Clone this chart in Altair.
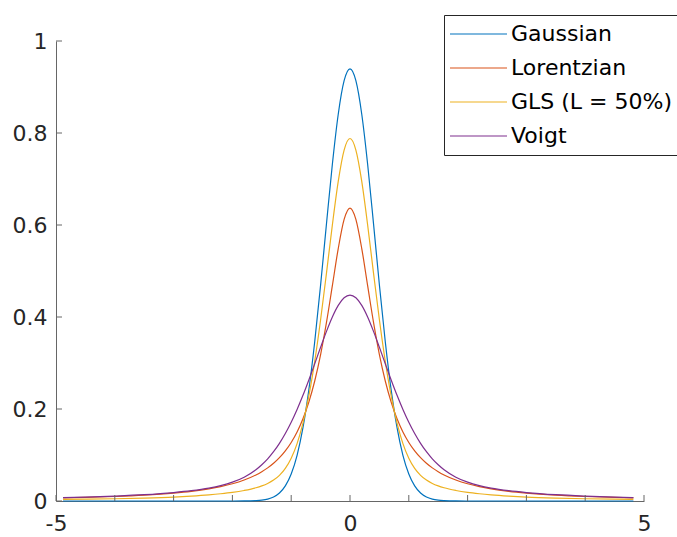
import altair as alt
import pandas as pd

# x positions
x_vals = [-4.88, -4.5, -4.0, -3.5, -3.0, -2.7, -2.4, -2.2, -2.0, -1.8, -1.6,
          -1.5, -1.4, -1.3, -1.2, -1.1, -1.0, -0.9, -0.8, -0.7, -0.6, -0.5,
          -0.4, -0.3, -0.2, -0.1, 0.0, 0.1, 0.2, 0.3, 0.4, 0.5, 0.6, 0.7,
          0.8, 0.9, 1.0, 1.1, 1.2, 1.3, 1.4, 1.5, 1.6, 1.8, 2.0, 2.2, 2.4,
          2.7, 3.0, 3.5, 4.0, 4.5, 4.82]

gaussian = [0, 0, 0, 0, 0, 0, 0, 0, 0, 0.0001, 0.0008,
            0.0018, 0.0041, 0.0087, 0.0173, 0.0328, 0.0587, 0.0994, 0.1593, 0.2414, 0.3463, 0.4697,
            0.6028, 0.7320, 0.8408, 0.9137, 0.9394, 0.9137, 0.8408, 0.7320, 0.6028, 0.4697, 0.3463, 0.2414,
            0.1593, 0.0994, 0.0587, 0.0328, 0.0173, 0.0087, 0.0041, 0.0018, 0.0008, 0.0001, 0, 0, 0,
            0, 0, 0, 0, 0, 0]

lorentzian = [0.0066, 0.0078, 0.0098, 0.0127, 0.0172, 0.0211, 0.0265, 0.0313, 0.0374, 0.0456, 0.0566,
              0.0637, 0.0720, 0.0820, 0.0942, 0.1090, 0.1273, 0.1501, 0.1788, 0.2151, 0.2609, 0.3183,
              0.3882, 0.4681, 0.5488, 0.6121, 0.6366, 0.6121, 0.5488, 0.4681, 0.3882, 0.3183, 0.2609, 0.2151,
              0.1788, 0.1501, 0.1273, 0.1090, 0.0942, 0.0820, 0.0720, 0.0637, 0.0566, 0.0456, 0.0374, 0.0313, 0.0265,
              0.0211, 0.0172, 0.0127, 0.0098, 0.0078, 0.0068]

gls = [0.0033, 0.0039, 0.0049, 0.0064, 0.0086, 0.0106, 0.0133, 0.0157, 0.0187, 0.0229, 0.0287,
       0.0328, 0.0381, 0.0454, 0.0558, 0.0709, 0.0930, 0.1248, 0.1691, 0.2283, 0.3036, 0.3940,
       0.4955, 0.6001, 0.6948, 0.7629, 0.7880, 0.7629, 0.6948, 0.6001, 0.4955, 0.3940, 0.3036, 0.2283,
       0.1691, 0.1248, 0.0930, 0.0709, 0.0558, 0.0454, 0.0381, 0.0328, 0.0287, 0.0229, 0.0187, 0.0157, 0.0133,
       0.0106, 0.0086, 0.0064, 0.0049, 0.0039, 0.0034]

voigt = [0.0073, 0.0085, 0.0107, 0.0137, 0.0184, 0.0224, 0.0281, 0.0335, 0.0410, 0.0518, 0.0679,
         0.0787, 0.0916, 0.1071, 0.1254, 0.1468, 0.1713, 0.1991, 0.2298, 0.2632, 0.2983, 0.3341,
         0.3688, 0.4001, 0.4253, 0.4419, 0.4477, 0.4419, 0.4253, 0.4001, 0.3688, 0.3341, 0.2983, 0.2632,
         0.2298, 0.1991, 0.1713, 0.1468, 0.1254, 0.1071, 0.0916, 0.0787, 0.0679, 0.0518, 0.0410, 0.0335, 0.0281,
         0.0224, 0.0184, 0.0137, 0.0107, 0.0085, 0.0074]

series_names = ["Gaussian", "Lorentzian", "GLS (L = 50%)", "Voigt"]
series_colors = ["#0072BD", "#D95319", "#EDB120", "#7E2F8E"]

x_ticks = [-5, -4, -3, -2, -1, 0, 1, 2, 3, 4, 5]
x_labels = [-5, 0, 5]
y_ticks = [0, 0.2, 0.4, 0.6, 0.8, 1.0]

rows = []
for name, ys in zip(series_names, [gaussian, lorentzian, gls, voigt]):
    for i, (xv, yv) in enumerate(zip(x_vals, ys)):
        rows.append({"x": xv, "y": yv, "series": name, "order": i})
df = pd.DataFrame(rows)

W, H = 588, 460
FONT = "DejaVu Sans"
AXIS_COLOR = "#666666"

xscale = alt.Scale(domain=[-5, 5], nice=False, zero=False)
yscale = alt.Scale(domain=[0, 1], nice=False)

lines = alt.Chart(df).mark_line(strokeWidth=1.2, interpolate="monotone").encode(
    x=alt.X("x:Q", scale=xscale,
            axis=alt.Axis(values=x_labels, title=None, grid=False, tickSize=0,
                          labelExpr="'' + datum.value", labelPadding=12,
                          labelFlush=False,
                          labelFontSize=22, labelFont=FONT, labelColor="#262626",
                          domainColor=AXIS_COLOR, domainWidth=1)),
    y=alt.Y("y:Q", scale=yscale,
            axis=alt.Axis(values=y_ticks, title=None, grid=False, tickSize=0,
                          format="~g", labelPadding=9, labelFlush=False,
                          labelFontSize=22, labelFont=FONT, labelColor="#262626",
                          domainColor=AXIS_COLOR, domainWidth=1)),
    color=alt.Color("series:N",
                    scale=alt.Scale(domain=series_names, range=series_colors),
                    legend=alt.Legend(title=None, orient="none", legendX=388, legendY=-26,
                                      symbolType="stroke", symbolSize=3249,
                                      symbolStrokeWidth=1.2, labelFontSize=22,
                                      labelFont=FONT, labelColor="#000000",
                                      labelOffset=3, labelLimit=400,
                                      rowPadding=6, clipHeight=28,
                                      padding=5, strokeColor="#262626",
                                      fillColor="#ffffff")),
    order="order:Q",
)

xt_df = pd.DataFrame({"xt": x_ticks})
yt_df = pd.DataFrame({"yt": y_ticks})

xticks = alt.Chart(xt_df).mark_rule(color=AXIS_COLOR, strokeWidth=1).encode(
    x=alt.X("xt:Q", scale=xscale),
    y=alt.value(H), y2=alt.value(H - 6),
)
yticks = alt.Chart(yt_df).mark_rule(color=AXIS_COLOR, strokeWidth=1).encode(
    y=alt.Y("yt:Q", scale=yscale),
    x=alt.value(0), x2=alt.value(6),
)

chart = alt.layer(lines, xticks, yticks).properties(
    width=W, height=H,
    padding={"left": 56, "top": 41, "right": 33, "bottom": 36},
    autosize=alt.AutoSizeParams(type="none"),
    background="white",
).configure_view(stroke=None)

chart.save("out.html", embed_options={"renderer": "svg", "actions": False})
